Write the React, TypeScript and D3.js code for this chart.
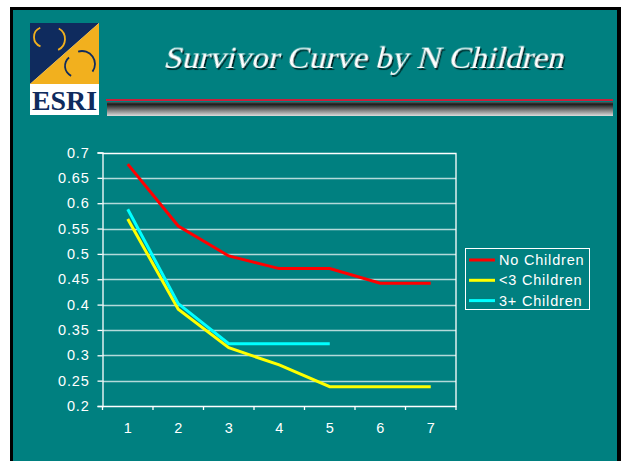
import React, { useEffect, useRef } from "react";
import * as d3 from "d3";

const categories = ["1", "2", "3", "4", "5", "6", "7"];
const noChildren = [0.677, 0.555, 0.496, 0.471, 0.471, 0.442, 0.442];
const underThree = [0.569, 0.391, 0.315, 0.281, 0.238, 0.238, 0.238];
const threePlus = [0.588, 0.402, 0.323, 0.323, 0.323, null, null];
const yTicks = [0.2, 0.25, 0.3, 0.35, 0.4, 0.45, 0.5, 0.55, 0.6, 0.65, 0.7];

const series = [
  { name: "No Children", values: noChildren, color: "#ff0000" },
  { name: "<3 Children", values: underThree, color: "#ffff00" },
  { name: "3+ Children", values: threePlus, color: "#00ffff" },
];

const TEAL = "#008080";
const NAVY = "#0f2b5e";
const GOLD = "#f2b01e";
const SERIF = "'Liberation Serif', 'Times New Roman', Tinos, 'DejaVu Serif', serif";
const SANS = "'Liberation Sans', Arial, sans-serif";

const App = () => {
  const svgRef = useRef(null);

  useEffect(() => {
    const svg = d3.select(svgRef.current);
    svg.selectAll("*").remove();

    // slide background
    svg.append("rect").attr("width", 621).attr("height", 461).attr("fill", "#ffffff");
    svg.append("rect").attr("x", 10).attr("y", 7).attr("width", 611).attr("height", 454).attr("fill", "#000");
    svg.append("rect").attr("x", 13).attr("y", 10).attr("width", 604).attr("height", 451).attr("fill", TEAL);

    const defs = svg.append("defs");
    const grad = defs
      .append("linearGradient")
      .attr("id", "barGrad")
      .attr("x1", 0)
      .attr("y1", 0)
      .attr("x2", 0)
      .attr("y2", 1);
    grad.append("stop").attr("offset", "0%").attr("stop-color", "#5a5a5a");
    grad.append("stop").attr("offset", "15%").attr("stop-color", "#1a1a1a");
    grad.append("stop").attr("offset", "100%").attr("stop-color", "#dcdcdc");

    const shadow = defs.append("filter").attr("id", "titleShadow").attr("x", "-5%").attr("y", "-20%").attr("width", "110%").attr("height", "150%");
    shadow
      .append("feDropShadow")
      .attr("dx", 2)
      .attr("dy", 2)
      .attr("stdDeviation", 0.4)
      .attr("flood-color", "#031a1a")
      .attr("flood-opacity", 0.9);

    // logo
    const logo = svg.append("g");
    logo.append("rect").attr("x", 30).attr("y", 23).attr("width", 69).attr("height", 92).attr("fill", "#fff");
    logo.append("polygon").attr("points", "30,23 99,23 30,84").attr("fill", NAVY);
    logo.append("polygon").attr("points", "99,23 99,84 30,84").attr("fill", GOLD);
    const arc = d3.arc();
    const arcs = [
      { cx: 44, cy: 37, r: 10, a0: 3.5, a1: 5.9, c: GOLD },
      { cx: 53, cy: 39, r: 12, a0: 0.5, a1: 2.7, c: GOLD },
      { cx: 76, cy: 66, r: 11, a0: 3.6, a1: 5.6, c: NAVY },
      { cx: 82, cy: 64, r: 13, a0: -0.3, a1: 2.2, c: NAVY },
    ];
    arcs.forEach((a) => {
      logo
        .append("path")
        .attr("transform", `translate(${a.cx},${a.cy})`)
        .attr("d", arc({ innerRadius: a.r - 0.9, outerRadius: a.r + 0.9, startAngle: a.a0, endAngle: a.a1 }))
        .attr("fill", a.c);
    });
    logo
      .append("text")
      .attr("x", 32)
      .attr("y", 110)
      .attr("textLength", 65)
      .attr("lengthAdjust", "spacingAndGlyphs")
      .attr("font-family", SERIF)
      .attr("font-weight", "bold")
      .attr("font-size", 27)
      .attr("fill", NAVY)
      .text("ESRI");

    // title: upright serif slanted by hand
    svg
      .append("text")
      .attr("transform", "translate(163,68) skewX(-14)")
      .attr("x", 0)
      .attr("y", 0)
      .attr("textLength", 400)
      .attr("lengthAdjust", "spacingAndGlyphs")
      .attr("font-family", SERIF)
      .attr("font-size", 30)
      .attr("fill", "#ffffff")
      .attr("filter", "url(#titleShadow)")
      .text("Survivor Curve by N Children");

    // title rule
    svg.append("rect").attr("x", 106).attr("y", 99).attr("width", 507).attr("height", 2).attr("fill", "#c8203c");
    svg.append("rect").attr("x", 107).attr("y", 102).attr("width", 506).attr("height", 14).attr("fill", "url(#barGrad)");

    // chart
    const left = 102.5;
    const right = 456;
    const top = 152.5;
    const bottom = 406;

    const xScale = d3.scaleBand().domain(categories).range([left, right]).padding(0);
    const yScale = d3.scaleLinear().domain([0.2, 0.7]).range([bottom, top]);
    const cx = (c) => xScale(c) + xScale.bandwidth() / 2;

    const chart = svg.append("g");

    chart
      .selectAll(".grid")
      .data(yTicks.slice(1, -1))
      .enter()
      .append("line")
      .attr("x1", left)
      .attr("x2", right)
      .attr("y1", (d) => Math.round(yScale(d)) + 0.5)
      .attr("y2", (d) => Math.round(yScale(d)) + 0.5)
      .attr("stroke", "#b4dada")
      .attr("stroke-width", 1.3);

    // plot border top/right
    chart
      .append("path")
      .attr("d", `M${left},${Math.round(top) + 0.5}H${right}V${bottom}`)
      .attr("fill", "none")
      .attr("stroke", "#ffffff")
      .attr("stroke-width", 1.3);

    const yAxis = d3.axisLeft(yScale).tickValues(yTicks).tickSize(5).tickPadding(8).tickFormat(d3.format("~g"));
    const yg = chart.append("g").attr("transform", `translate(${left},0)`).call(yAxis);
    yg.select(".domain").attr("stroke", "#fff").attr("stroke-width", 1.3);
    yg.selectAll(".tick line").attr("stroke", "#fff").attr("stroke-width", 1.3);
    yg.selectAll("text")
      .attr("fill", "#fff")
      .attr("font-family", SANS)
      .attr("font-size", 14.5)
      .attr("letter-spacing", 0.8);

    const xAxis = d3.axisBottom(xScale).tickSize(0).tickPadding(17);
    const xg = chart.append("g").attr("transform", `translate(0,${bottom})`).call(xAxis);
    xg.select(".domain").attr("stroke", "#fff").attr("stroke-width", 1.3);
    xg.selectAll("text")
      .attr("fill", "#fff")
      .attr("font-family", SANS)
      .attr("font-size", 14.5);
    // x tick marks at band edges
    chart
      .selectAll(".xtick")
      .data(categories.concat(["end"]))
      .enter()
      .append("line")
      .attr("x1", (d, i) => (i < categories.length ? xScale(d) : right))
      .attr("x2", (d, i) => (i < categories.length ? xScale(d) : right))
      .attr("y1", bottom)
      .attr("y2", bottom + 4)
      .attr("stroke", "#fff")
      .attr("stroke-width", 1.3);

    const line = d3
      .line()
      .defined((d) => d[1] != null)
      .x((d) => cx(d[0]))
      .y((d) => yScale(d[1]));

    // yellow first, then cyan, red on top
    [series[1], series[2], series[0]].forEach((s) => {
      chart
        .append("path")
        .datum(categories.map((c, i) => [c, s.values[i]]))
        .attr("d", line)
        .attr("fill", "none")
        .attr("stroke", s.color)
        .attr("stroke-width", 3);
    });

    // legend
    const lg = chart.append("g");
    lg.append("rect")
      .attr("x", 465.5)
      .attr("y", 248.5)
      .attr("width", 124)
      .attr("height", 61)
      .attr("fill", "none")
      .attr("stroke", "#fff")
      .attr("stroke-width", 1);
    series.forEach((s, i) => {
      const y = 260 + i * 20.3;
      lg.append("line")
        .attr("x1", 469)
        .attr("x2", 495)
        .attr("y1", y)
        .attr("y2", y)
        .attr("stroke", s.color)
        .attr("stroke-width", 3);
      lg.append("text")
        .attr("x", 499)
        .attr("y", y + 5)
        .attr("fill", "#fff")
        .attr("font-family", SANS)
        .attr("font-size", 14.5)
        .attr("letter-spacing", 0.8)
        .text(s.name);
    });
  }, []);

  return (
    <div>
      <svg ref={svgRef} width={621} height={461} style={{ position: "absolute", left: 0, top: 0 }}></svg>
    </div>
  );
};

export default App;
